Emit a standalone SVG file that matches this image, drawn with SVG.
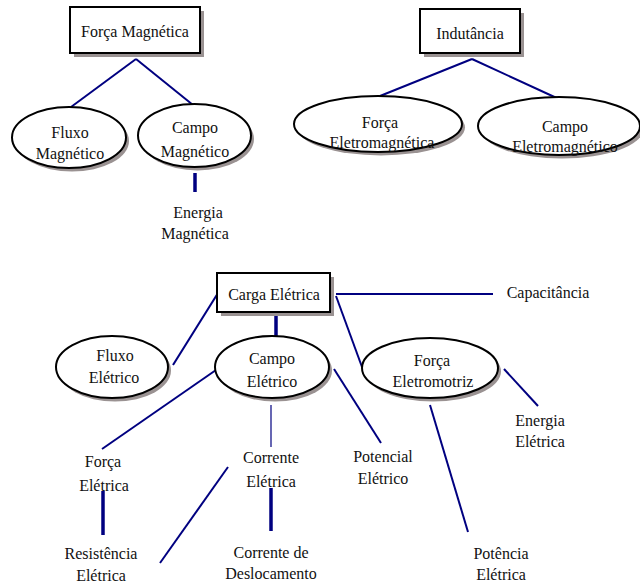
<svg xmlns="http://www.w3.org/2000/svg" width="640" height="587" viewBox="0 0 640 587">
  <style>
    text { font-family: 'Liberation Serif', 'Times New Roman', 'DejaVu Serif', serif; font-size: 16px; fill: #111; text-anchor: middle; }
    .box { fill: #fff; stroke: #000; stroke-width: 2; }
    .oval { fill: #fff; stroke: #000; stroke-width: 2; }
    .shadow { fill: #9a9292; stroke: none; }
    .link { stroke: #000080; stroke-width: 2; fill: none; }
    .thick { stroke: #000080; stroke-width: 3.5; fill: none; }
    .thin { stroke: #000080; stroke-width: 1.2; fill: none; }
  </style>
  <rect width="640" height="587" fill="#fff"/>

  <!-- connectors -->
  <g id="connectors">
    <line class="link" x1="136" y1="59" x2="71" y2="107"/>
    <line class="link" x1="136" y1="59" x2="193" y2="105"/>
    <line class="thick" x1="195" y1="173" x2="195" y2="192"/>
    <line class="link" x1="472" y1="59" x2="380" y2="96"/>
    <line class="link" x1="472" y1="59" x2="561" y2="100"/>
    <line class="link" x1="336" y1="294" x2="493" y2="294"/>
    <line class="link" x1="218" y1="293" x2="173" y2="365"/>
    <line class="thick" x1="276" y1="316" x2="276" y2="336"/>
    <line class="link" x1="336" y1="296" x2="362" y2="367"/>
    <line class="link" x1="216" y1="370" x2="102" y2="449"/>
    <line class="thin" x1="271" y1="405" x2="271" y2="447"/>
    <line class="link" x1="334" y1="369" x2="381" y2="443"/>
    <line class="link" x1="504" y1="369" x2="538" y2="406"/>
    <line class="link" x1="430" y1="405" x2="468" y2="532"/>
    <line class="thick" x1="103" y1="491" x2="103" y2="535"/>
    <line class="link" x1="160" y1="563" x2="228" y2="467"/>
    <line class="thick" x1="271" y1="488" x2="271" y2="531"/>
  </g>

  <!-- magnetic group -->
  <g id="forca-magnetica">
    <rect class="shadow" x="74" y="11" width="130" height="46"/>
    <rect class="box" x="70" y="7" width="130" height="46"/>
    <text x="135" y="37">Força Magnética</text>
  </g>
  <g id="fluxo-magnetico">
    <ellipse class="shadow" cx="72" cy="141" rx="57" ry="30.5"/>
    <ellipse class="oval" cx="69" cy="137.5" rx="57" ry="30.5"/>
    <text x="70" y="138">Fluxo</text>
    <text x="70" y="159">Magnético</text>
  </g>
  <g id="campo-magnetico">
    <ellipse class="shadow" cx="197.5" cy="139" rx="56.5" ry="31.5"/>
    <ellipse class="oval" cx="194.5" cy="135.5" rx="56.5" ry="31.5"/>
    <text x="195" y="133">Campo</text>
    <text x="195" y="157">Magnético</text>
  </g>
  <g id="energia-magnetica">
    <text x="198" y="218">Energia</text>
    <text x="195" y="239">Magnética</text>
  </g>

  <!-- inductance group -->
  <g id="indutancia">
    <rect class="shadow" x="424" y="13" width="100" height="44"/>
    <rect class="box" x="420" y="9" width="100" height="44"/>
    <text x="470" y="39">Indutância</text>
  </g>
  <g id="forca-eletromagnetica">
    <ellipse class="shadow" cx="381" cy="127.5" rx="84" ry="28"/>
    <ellipse class="oval" cx="378" cy="124" rx="84" ry="28"/>
    <text x="380" y="128">Força</text>
    <text x="382" y="148">Eletromagnética</text>
  </g>
  <g id="campo-eletromagnetico">
    <ellipse class="shadow" cx="562" cy="129.5" rx="81" ry="29"/>
    <ellipse class="oval" cx="559" cy="126" rx="81" ry="29"/>
    <text x="565" y="132">Campo</text>
    <text x="565" y="152">Eletromagnético</text>
  </g>

  <!-- electric group -->
  <g id="carga-eletrica">
    <rect class="shadow" x="221" y="277" width="113" height="39"/>
    <rect class="box" x="217" y="273" width="113" height="39"/>
    <text x="274" y="300">Carga Elétrica</text>
  </g>
  <g id="capacitancia">
    <text x="548" y="298">Capacitância</text>
  </g>
  <g id="fluxo-eletrico">
    <ellipse class="shadow" cx="115" cy="370.5" rx="56" ry="31"/>
    <ellipse class="oval" cx="112" cy="367" rx="56" ry="31"/>
    <text x="115" y="361">Fluxo</text>
    <text x="114" y="383">Elétrico</text>
  </g>
  <g id="campo-eletrico">
    <ellipse class="shadow" cx="275" cy="370.5" rx="57" ry="31"/>
    <ellipse class="oval" cx="272" cy="367" rx="57" ry="31"/>
    <text x="272" y="364">Campo</text>
    <text x="272" y="387">Elétrico</text>
  </g>
  <g id="forca-eletromotriz">
    <ellipse class="shadow" cx="433" cy="371.5" rx="68" ry="30"/>
    <ellipse class="oval" cx="430" cy="368" rx="68" ry="30"/>
    <text x="432" y="366">Força</text>
    <text x="433" y="387">Eletromotriz</text>
  </g>
  <g id="energia-eletrica">
    <text x="540" y="426">Energia</text>
    <text x="540" y="447">Elétrica</text>
  </g>
  <g id="potencial-eletrico">
    <text x="383" y="462">Potencial</text>
    <text x="383" y="484">Elétrico</text>
  </g>
  <g id="forca-eletrica">
    <text x="103" y="467">Força</text>
    <text x="104" y="491">Elétrica</text>
  </g>
  <g id="corrente-eletrica">
    <text x="271" y="463">Corrente</text>
    <text x="271" y="487">Elétrica</text>
  </g>
  <g id="resistencia-eletrica">
    <text x="101" y="559">Resistência</text>
    <text x="101" y="581">Elétrica</text>
  </g>
  <g id="corrente-deslocamento">
    <text x="271" y="558">Corrente de</text>
    <text x="271" y="579">Deslocamento</text>
  </g>
  <g id="potencia-eletrica">
    <text x="501" y="559">Potência</text>
    <text x="501" y="580">Elétrica</text>
  </g>
</svg>
